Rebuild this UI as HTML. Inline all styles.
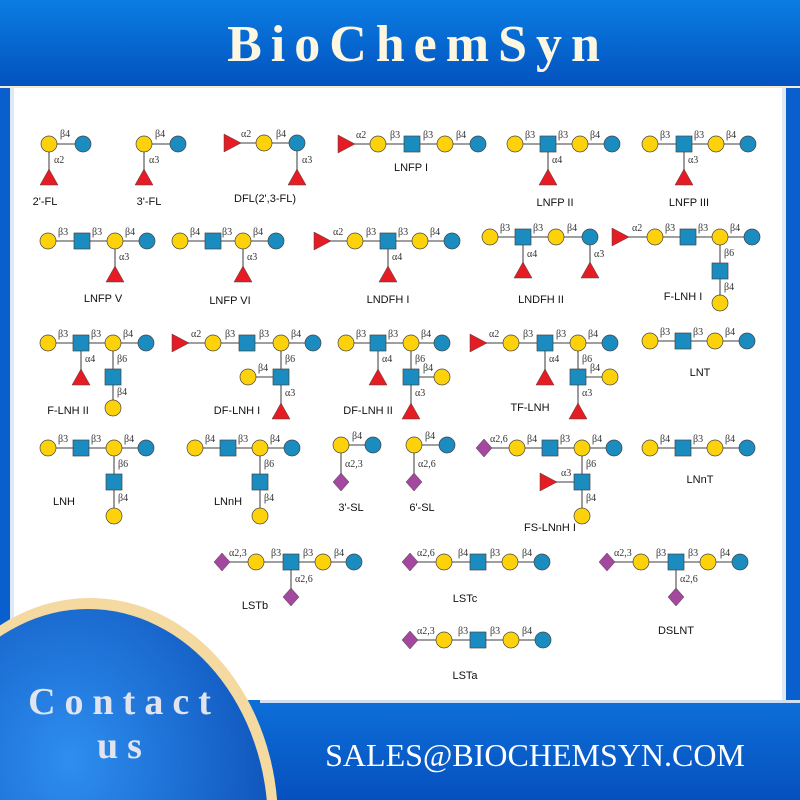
<!DOCTYPE html>
<html><head><meta charset="utf-8"><style>
html,body{margin:0;padding:0;width:800px;height:800px;overflow:hidden;background:#0a5fcf}
svg{display:block}
.l{font-family:"Liberation Serif",serif;font-size:10px;fill:#333}
.n{font-family:"Liberation Sans",sans-serif;font-size:11px;fill:#111}
</style></head><body>
<svg width="800" height="800" viewBox="0 0 800 800" xmlns="http://www.w3.org/2000/svg">
<defs>
<linearGradient id="hg" x1="0" y1="0" x2="0" y2="1"><stop offset="0" stop-color="#0a7de2"/><stop offset="1" stop-color="#0352bf"/></linearGradient>
<linearGradient id="bg" x1="0" y1="0" x2="0" y2="1"><stop offset="0" stop-color="#0e6fd8"/><stop offset="1" stop-color="#0550bf"/></linearGradient>
<radialGradient id="cg" cx="0.45" cy="0.35" r="0.7"><stop offset="0" stop-color="#2e8ef0"/><stop offset="1" stop-color="#0848b0"/></radialGradient>
<circle id="y" r="8" fill="#fdd20a" stroke="#444" stroke-width="0.7"/>
<circle id="b" r="8" fill="#1a8cc0" stroke="#444" stroke-width="0.7"/>
<rect id="s" x="-8" y="-8" width="16" height="16" fill="#1a8cc0" stroke="#444" stroke-width="0.7"/>
<polygon id="t" points="0,-9 9,7 -9,7" fill="#e51c23" stroke="#444" stroke-width="0.5"/>
<polygon id="r" points="-8,-9 9,0 -8,9" fill="#e51c23" stroke="#444" stroke-width="0.5"/>
<polygon id="d" points="0,-9 8,0 0,9 -8,0" fill="#a3479f" stroke="#444" stroke-width="0.5"/>
</defs>
<rect x="0" y="0" width="800" height="800" fill="#0a5fcf"/>
<rect x="0" y="0" width="800" height="86" fill="url(#hg)"/>
<rect x="0" y="86" width="800" height="2" fill="#f3ead0"/>
<rect x="10" y="88" width="776" height="620" fill="#dfe9f6"/>
<rect x="14" y="88" width="768" height="620" fill="#ffffff"/>
<text x="418" y="61" text-anchor="middle" font-family="Liberation Serif,serif" font-weight="bold" font-size="52" letter-spacing="9" fill="#fdf6e0">BioChemSyn</text>

<g stroke="#666" stroke-width="1.3" fill="none">
<path d="M49 144H83M49 144V177"/>
<path d="M144 144H178M144 144V177"/>
<path d="M232 143H297V177"/>
<path d="M346 144H478"/>
<path d="M515 144H612M548 144V177"/>
<path d="M650 144H748M684 144V177"/>
<path d="M48 241H147M115 241V274"/>
<path d="M180 241H276M243 241V274"/>
<path d="M322 241H452M388 241V274"/>
<path d="M490 237H590M523 237V270M590 237V270"/>
<path d="M620 237H752M720 237V303"/>
<path d="M48 343H146M81 343V377M113 343V408"/>
<path d="M180 343H313M281 343V411M248 377H281"/>
<path d="M346 343H442M378 343V377M411 343V411M411 377H442"/>
<path d="M478 343H610M545 343V377M578 343V411M578 377H610"/>
<path d="M650 341H747"/>
<path d="M48 448H146M114 448V516"/>
<path d="M195 448H292M260 448V516"/>
<path d="M341 445H373M341 445V482"/>
<path d="M414 445H447M414 445V482"/>
<path d="M484 448H614M582 448V516M549 482H582"/>
<path d="M650 448H747"/>
<path d="M222 562H354M291 562V597"/>
<path d="M410 562H542"/>
<path d="M607 562H740M676 562V597"/>
<path d="M410 640H543"/>
</g>

<g>
<use href="#y" x="49" y="144"/><use href="#b" x="83" y="144"/><use href="#t" x="49" y="178"/>
<text class="l" x="60" y="137">β4</text><text class="l" x="54" y="163">α2</text>
<text class="n" x="45" y="205" text-anchor="middle">2'-FL</text>
<use href="#y" x="144" y="144"/><use href="#b" x="178" y="144"/><use href="#t" x="144" y="178"/>
<text class="l" x="155" y="137">β4</text><text class="l" x="149" y="163">α3</text>
<text class="n" x="149" y="205" text-anchor="middle">3'-FL</text>
<use href="#r" x="232" y="143"/><use href="#y" x="264" y="143"/><use href="#b" x="297" y="143"/><use href="#t" x="297" y="178"/>
<text class="l" x="241" y="137">α2</text><text class="l" x="276" y="137">β4</text><text class="l" x="302" y="163">α3</text>
<text class="n" x="265" y="202" text-anchor="middle">DFL(2',3-FL)</text>
<use href="#r" x="346" y="144"/><use href="#y" x="378" y="144"/><use href="#s" x="412" y="144"/><use href="#y" x="445" y="144"/><use href="#b" x="478" y="144"/>
<text class="l" x="356" y="138">α2</text><text class="l" x="390" y="138">β3</text><text class="l" x="423" y="138">β3</text><text class="l" x="456" y="138">β4</text>
<text class="n" x="411" y="171" text-anchor="middle">LNFP I</text>
<use href="#y" x="515" y="144"/><use href="#s" x="548" y="144"/><use href="#y" x="580" y="144"/><use href="#b" x="612" y="144"/><use href="#t" x="548" y="178"/>
<text class="l" x="525" y="138">β3</text><text class="l" x="558" y="138">β3</text><text class="l" x="590" y="138">β4</text><text class="l" x="552" y="163">α4</text>
<text class="n" x="555" y="206" text-anchor="middle">LNFP II</text>
<use href="#y" x="650" y="144"/><use href="#s" x="684" y="144"/><use href="#y" x="716" y="144"/><use href="#b" x="748" y="144"/><use href="#t" x="684" y="178"/>
<text class="l" x="660" y="138">β3</text><text class="l" x="694" y="138">β3</text><text class="l" x="726" y="138">β4</text><text class="l" x="688" y="163">α3</text>
<text class="n" x="689" y="206" text-anchor="middle">LNFP III</text>

<use href="#y" x="48" y="241"/><use href="#s" x="82" y="241"/><use href="#y" x="115" y="241"/><use href="#b" x="147" y="241"/><use href="#t" x="115" y="275"/>
<text class="l" x="58" y="235">β3</text><text class="l" x="92" y="235">β3</text><text class="l" x="125" y="235">β4</text><text class="l" x="119" y="260">α3</text>
<text class="n" x="103" y="302" text-anchor="middle">LNFP V</text>
<use href="#y" x="180" y="241"/><use href="#s" x="213" y="241"/><use href="#y" x="243" y="241"/><use href="#b" x="276" y="241"/><use href="#t" x="243" y="275"/>
<text class="l" x="190" y="235">β4</text><text class="l" x="222" y="235">β3</text><text class="l" x="253" y="235">β4</text><text class="l" x="247" y="260">α3</text>
<text class="n" x="230" y="304" text-anchor="middle">LNFP VI</text>
<use href="#r" x="322" y="241"/><use href="#y" x="355" y="241"/><use href="#s" x="388" y="241"/><use href="#y" x="420" y="241"/><use href="#b" x="452" y="241"/><use href="#t" x="388" y="275"/>
<text class="l" x="333" y="235">α2</text><text class="l" x="366" y="235">β3</text><text class="l" x="398" y="235">β3</text><text class="l" x="430" y="235">β4</text><text class="l" x="392" y="260">α4</text>
<text class="n" x="388" y="303" text-anchor="middle">LNDFH I</text>
<use href="#y" x="490" y="237"/><use href="#s" x="523" y="237"/><use href="#y" x="556" y="237"/><use href="#b" x="590" y="237"/><use href="#t" x="523" y="271"/><use href="#t" x="590" y="271"/>
<text class="l" x="500" y="231">β3</text><text class="l" x="533" y="231">β3</text><text class="l" x="567" y="231">β4</text><text class="l" x="527" y="257">α4</text><text class="l" x="594" y="257">α3</text>
<text class="n" x="541" y="303" text-anchor="middle">LNDFH II</text>
<use href="#r" x="620" y="237"/><use href="#y" x="655" y="237"/><use href="#s" x="688" y="237"/><use href="#y" x="720" y="237"/><use href="#b" x="752" y="237"/><use href="#s" x="720" y="271"/><use href="#y" x="720" y="303"/>
<text class="l" x="632" y="231">α2</text><text class="l" x="665" y="231">β3</text><text class="l" x="698" y="231">β3</text><text class="l" x="730" y="231">β4</text><text class="l" x="724" y="256">β6</text><text class="l" x="724" y="290">β4</text>
<text class="n" x="683" y="300" text-anchor="middle">F-LNH I</text>

<use href="#y" x="48" y="343"/><use href="#s" x="81" y="343"/><use href="#y" x="113" y="343"/><use href="#b" x="146" y="343"/><use href="#t" x="81" y="378"/><use href="#s" x="113" y="377"/><use href="#y" x="113" y="408"/>
<text class="l" x="58" y="337">β3</text><text class="l" x="91" y="337">β3</text><text class="l" x="123" y="337">β4</text><text class="l" x="85" y="362">α4</text><text class="l" x="117" y="362">β6</text><text class="l" x="117" y="395">β4</text>
<text class="n" x="68" y="414" text-anchor="middle">F-LNH II</text>
<use href="#r" x="180" y="343"/><use href="#y" x="213" y="343"/><use href="#s" x="247" y="343"/><use href="#y" x="281" y="343"/><use href="#b" x="313" y="343"/><use href="#s" x="281" y="377"/><use href="#y" x="248" y="377"/><use href="#t" x="281" y="412"/>
<text class="l" x="191" y="337">α2</text><text class="l" x="225" y="337">β3</text><text class="l" x="259" y="337">β3</text><text class="l" x="291" y="337">β4</text><text class="l" x="285" y="362">β6</text><text class="l" x="258" y="371">β4</text><text class="l" x="285" y="396">α3</text>
<text class="n" x="237" y="414" text-anchor="middle">DF-LNH I</text>
<use href="#y" x="346" y="343"/><use href="#s" x="378" y="343"/><use href="#y" x="411" y="343"/><use href="#b" x="442" y="343"/><use href="#t" x="378" y="378"/><use href="#s" x="411" y="377"/><use href="#y" x="442" y="377"/><use href="#t" x="411" y="412"/>
<text class="l" x="356" y="337">β3</text><text class="l" x="388" y="337">β3</text><text class="l" x="421" y="337">β4</text><text class="l" x="382" y="362">α4</text><text class="l" x="415" y="362">β6</text><text class="l" x="423" y="371">β4</text><text class="l" x="415" y="396">α3</text>
<text class="n" x="368" y="414" text-anchor="middle">DF-LNH II</text>
<use href="#r" x="478" y="343"/><use href="#y" x="511" y="343"/><use href="#s" x="545" y="343"/><use href="#y" x="578" y="343"/><use href="#b" x="610" y="343"/><use href="#t" x="545" y="378"/><use href="#s" x="578" y="377"/><use href="#y" x="610" y="377"/><use href="#t" x="578" y="412"/>
<text class="l" x="489" y="337">α2</text><text class="l" x="523" y="337">β3</text><text class="l" x="556" y="337">β3</text><text class="l" x="588" y="337">β4</text><text class="l" x="549" y="362">α4</text><text class="l" x="582" y="362">β6</text><text class="l" x="590" y="371">β4</text><text class="l" x="582" y="396">α3</text>
<text class="n" x="530" y="411" text-anchor="middle">TF-LNH</text>
<use href="#y" x="650" y="341"/><use href="#s" x="683" y="341"/><use href="#y" x="715" y="341"/><use href="#b" x="747" y="341"/>
<text class="l" x="660" y="335">β3</text><text class="l" x="693" y="335">β3</text><text class="l" x="725" y="335">β4</text>
<text class="n" x="700" y="376" text-anchor="middle">LNT</text>

<use href="#y" x="48" y="448"/><use href="#s" x="81" y="448"/><use href="#y" x="114" y="448"/><use href="#b" x="146" y="448"/><use href="#s" x="114" y="482"/><use href="#y" x="114" y="516"/>
<text class="l" x="58" y="442">β3</text><text class="l" x="91" y="442">β3</text><text class="l" x="124" y="442">β4</text><text class="l" x="118" y="467">β6</text><text class="l" x="118" y="501">β4</text>
<text class="n" x="64" y="505" text-anchor="middle">LNH</text>
<use href="#y" x="195" y="448"/><use href="#s" x="228" y="448"/><use href="#y" x="260" y="448"/><use href="#b" x="292" y="448"/><use href="#s" x="260" y="482"/><use href="#y" x="260" y="516"/>
<text class="l" x="205" y="442">β4</text><text class="l" x="238" y="442">β3</text><text class="l" x="270" y="442">β4</text><text class="l" x="264" y="467">β6</text><text class="l" x="264" y="501">β4</text>
<text class="n" x="228" y="505" text-anchor="middle">LNnH</text>
<use href="#y" x="341" y="445"/><use href="#b" x="373" y="445"/><use href="#d" x="341" y="482"/>
<text class="l" x="352" y="439">β4</text><text class="l" x="345" y="467">α2,3</text>
<text class="n" x="351" y="511" text-anchor="middle">3'-SL</text>
<use href="#y" x="414" y="445"/><use href="#b" x="447" y="445"/><use href="#d" x="414" y="482"/>
<text class="l" x="425" y="439">β4</text><text class="l" x="418" y="467">α2,6</text>
<text class="n" x="422" y="511" text-anchor="middle">6'-SL</text>
<use href="#d" x="484" y="448"/><use href="#y" x="517" y="448"/><use href="#s" x="550" y="448"/><use href="#y" x="582" y="448"/><use href="#b" x="614" y="448"/><use href="#s" x="582" y="482"/><use href="#r" x="548" y="482"/><use href="#y" x="582" y="516"/>
<text class="l" x="490" y="442">α2,6</text><text class="l" x="527" y="442">β4</text><text class="l" x="560" y="442">β3</text><text class="l" x="592" y="442">β4</text><text class="l" x="586" y="467">β6</text><text class="l" x="561" y="476">α3</text><text class="l" x="586" y="501">β4</text>
<text class="n" x="550" y="531" text-anchor="middle">FS-LNnH I</text>
<use href="#y" x="650" y="448"/><use href="#s" x="683" y="448"/><use href="#y" x="715" y="448"/><use href="#b" x="747" y="448"/>
<text class="l" x="660" y="442">β4</text><text class="l" x="693" y="442">β3</text><text class="l" x="725" y="442">β4</text>
<text class="n" x="700" y="483" text-anchor="middle">LNnT</text>

<use href="#d" x="222" y="562"/><use href="#y" x="256" y="562"/><use href="#s" x="291" y="562"/><use href="#y" x="323" y="562"/><use href="#b" x="354" y="562"/><use href="#d" x="291" y="597"/>
<text class="l" x="229" y="556">α2,3</text><text class="l" x="271" y="556">β3</text><text class="l" x="303" y="556">β3</text><text class="l" x="334" y="556">β4</text><text class="l" x="295" y="582">α2,6</text>
<text class="n" x="255" y="609" text-anchor="middle">LSTb</text>
<use href="#d" x="410" y="562"/><use href="#y" x="444" y="562"/><use href="#s" x="478" y="562"/><use href="#y" x="510" y="562"/><use href="#b" x="542" y="562"/>
<text class="l" x="417" y="556">α2,6</text><text class="l" x="458" y="556">β4</text><text class="l" x="490" y="556">β3</text><text class="l" x="522" y="556">β4</text>
<text class="n" x="465" y="602" text-anchor="middle">LSTc</text>
<use href="#d" x="607" y="562"/><use href="#y" x="641" y="562"/><use href="#s" x="676" y="562"/><use href="#y" x="708" y="562"/><use href="#b" x="740" y="562"/><use href="#d" x="676" y="597"/>
<text class="l" x="614" y="556">α2,3</text><text class="l" x="656" y="556">β3</text><text class="l" x="688" y="556">β3</text><text class="l" x="720" y="556">β4</text><text class="l" x="680" y="582">α2,6</text>
<text class="n" x="676" y="634" text-anchor="middle">DSLNT</text>
<use href="#d" x="410" y="640"/><use href="#y" x="444" y="640"/><use href="#s" x="478" y="640"/><use href="#y" x="511" y="640"/><use href="#b" x="543" y="640"/>
<text class="l" x="417" y="634">α2,3</text><text class="l" x="458" y="634">β3</text><text class="l" x="490" y="634">β3</text><text class="l" x="522" y="634">β4</text>
<text class="n" x="465" y="679" text-anchor="middle">LSTa</text>
</g>

<rect x="0" y="700" width="800" height="100" fill="url(#bg)"/>
<rect x="260" y="700" width="540" height="3" fill="#cfe0f5"/>
<ellipse cx="90" cy="822" rx="188" ry="224" fill="#f4d9a0"/>
<ellipse cx="88" cy="825" rx="180" ry="216" fill="url(#cg)"/>
<text x="124" y="714" text-anchor="middle" font-family="Liberation Serif,serif" font-weight="bold" font-size="38" letter-spacing="9" fill="#dfe4ee">Contact</text>
<text x="124" y="758" text-anchor="middle" font-family="Liberation Serif,serif" font-weight="bold" font-size="38" letter-spacing="9" fill="#dfe4ee">us</text>
<text x="535" y="766" text-anchor="middle" font-family="Liberation Serif,serif" font-size="32" fill="#ffffff">SALES@BIOCHEMSYN.COM</text>
</svg>
</body></html>
